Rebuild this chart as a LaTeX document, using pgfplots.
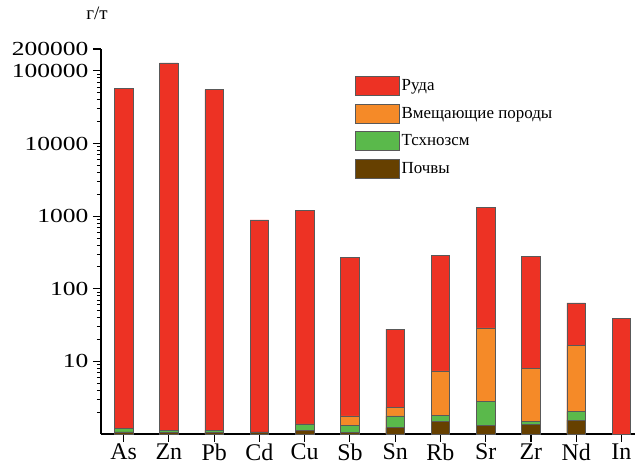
\documentclass[border=0pt]{standalone}
\usepackage{fontspec}
\setmainfont{Liberation Serif}
\usepackage{pgfplots}
\pgfplotsset{compat=1.18}
\definecolor{cred}{RGB}{237,50,36}
\definecolor{corange}{RGB}{245,138,40}
\definecolor{cgreen}{RGB}{90,185,75}
\definecolor{cbrown}{RGB}{102,64,0}
\begin{document}
\begin{tikzpicture}
\path[use as bounding box] (-101bp,-30bp) rectangle (536bp,434bp);
\begin{axis}[
  scale only axis,
  width=534bp, height=385bp,
  ymode=log,
  ymin=1, ymax=200000,
  xmin=-0.5, xmax=11.3,
  axis x line*=bottom, axis y line*=left,
  axis line style={line width=1.2pt, -},
  ybar,
  bar width=0.41,
  every axis plot post/.append style={bar shift=0pt},
  xtick={0,...,11},
  xticklabels={As,Zn,Pb,Cd,Cu,Sb,Sn,Rb,Sr,Zr,Nd,In},
  ytick={10,100,1000,10000,100000,200000},
  yticklabels={10,100,1000,10000,100000,200000},
  minor ytick={2,3,4,5,6,7,8,9,20,30,40,50,60,70,80,90,200,300,400,500,600,700,800,900,2000,3000,4000,5000,6000,7000,8000,9000,20000,30000,40000,50000,60000,70000,80000,90000},
  tick align=outside,
  major tick length=8bp,
  minor tick length=4bp,
  major tick style={black, line width=1.2pt},
  minor tick style={black, line width=0.8pt},
  /pgf/number format/assume math mode=true,
  xticklabel style={font=\fontsize{24}{24}\selectfont, yshift=2bp},
  yticklabel style={font=\fontsize{20}{20}\selectfont, xscale=1.28},
  clip=false,
  legend style={at={(rel axis cs:0.470,0.935)}, anchor=north west, draw=none, fill=none,
    font=\fontsize{17}{17}\selectfont, row sep=8bp, cells={anchor=west}},
  legend cell align=left,
  legend image code/.code={\draw[#1, draw=gray!70!black, line width=0.5pt] (0bp,-9.5bp) rectangle (44bp,9.5bp);},
]
\addplot[fill=cred, draw=gray!70!black, line width=0.5pt] coordinates {
 (0,57000) (1,129000) (2,55000) (3,890) (4,1190) (5,268) (6,27.8) (7,290) (8,1320) (9,279) (10,64) (11,39)};
\addplot[fill=corange, draw=gray!70!black, line width=0.5pt] coordinates {
 (5,1.78) (6,2.33) (7,7.4) (8,28.9) (9,8.0) (10,16.5)};
\addplot[fill=cgreen, draw=gray!70!black, line width=0.5pt] coordinates {
 (0,1.2) (1,1.13) (2,1.13) (4,1.38) (5,1.32) (6,1.77) (7,1.8) (8,2.8) (9,1.5) (10,2.05)};
\addplot[fill=cbrown, draw=gray!70!black, line width=0.5pt] coordinates {
 (0,1.07) (1,1.05) (2,1.05) (3,1.07) (4,1.12) (5,1.05) (6,1.22) (7,1.5) (8,1.3) (9,1.37) (10,1.55)};
\legend{Руда, Вмещающие породы, Тсхнозсм, Почвы}
\node[font=\fontsize{19}{19}\selectfont] at ([xshift=-4bp,yshift=36bp]rel axis cs:0,1) {г/т};
\end{axis}
\end{tikzpicture}
\end{document}
